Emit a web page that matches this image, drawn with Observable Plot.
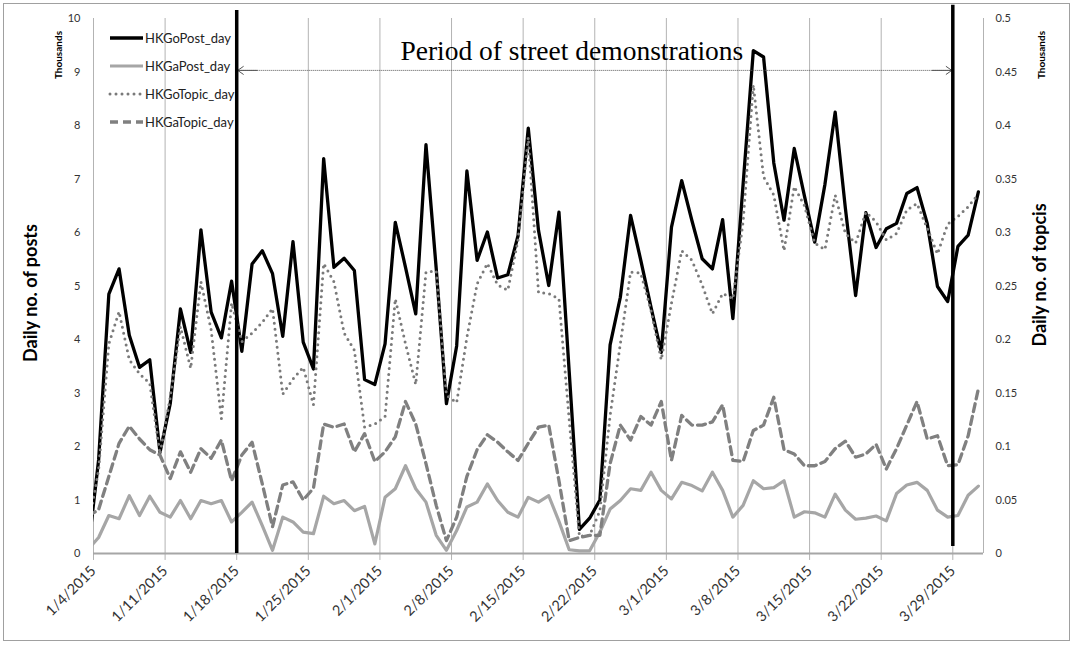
<!DOCTYPE html>
<html>
<head>
<meta charset="utf-8">
<script src="https://cdn.jsdelivr.net/npm/d3@7"></script>
<script src="https://cdn.jsdelivr.net/npm/@observablehq/plot@0.6"></script>
<style>
  html, body { margin: 0; padding: 0; background: #fff; }
  #chart { width: 1074px; height: 645px; }
</style>
</head>
<body>
<div id="chart"></div>
<script>
// ---------- DATA (thousands) : one value per day, 2015-01-03 .. 2015-03-31 ----------
const firstDay = "2015-01-03";
const lastDayExclusive = "2015-04-01";

const seriesNames = ["HKGoPost_day", "HKGaPost_day", "HKGoTopic_day", "HKGaTopic_day"];

// daily posts (left axis, thousands)
const goPost = [
  0.10,
  1.75, 4.85, 5.32, 4.08, 3.48, 3.62, 1.89,
  2.80, 4.57, 3.76, 6.05, 4.51, 4.03, 5.09,
  3.78, 5.41, 5.66, 5.23, 4.06, 5.83, 3.95,
  3.45, 7.38, 5.35, 5.52, 5.29, 3.25, 3.16,
  3.92, 6.19, 5.35, 4.48, 7.64, 5.33, 2.80,
  3.88, 7.15, 5.48, 6.01, 5.15, 5.21, 5.94,
  7.95, 6.04, 5.01, 6.38, 3.40, 0.45, 0.66,
  1.00, 3.90, 4.79, 6.32, 5.48, 4.60, 3.76,
  6.10, 6.97, 6.22, 5.51, 5.32, 6.24, 4.39,
  6.90, 9.40, 9.28, 7.30, 6.23, 7.57, 6.68,
  5.82, 6.90, 8.25, 6.45, 4.82, 6.37, 5.72,
  6.07, 6.17, 6.73, 6.84, 6.17, 4.99, 4.71,
  5.74, 5.95, 6.76
];
const gaPost = [
  0.08,
  0.30, 0.71, 0.65, 1.08, 0.71, 1.07, 0.77,
  0.68, 0.99, 0.65, 0.99, 0.93, 0.99, 0.59,
  0.77, 0.96, 0.52, 0.06, 0.68, 0.59, 0.40,
  0.37, 1.07, 0.93, 0.99, 0.80, 0.88, 0.18,
  1.05, 1.21, 1.64, 1.21, 0.96, 0.34, 0.06,
  0.43, 0.87, 0.96, 1.30, 0.99, 0.77, 0.68,
  1.05, 0.96, 1.08, 0.60, 0.07, 0.05, 0.05,
  0.40, 0.83, 0.99, 1.21, 1.18, 1.52, 1.18,
  1.02, 1.33, 1.27, 1.17, 1.52, 1.18, 0.68,
  0.90, 1.36, 1.21, 1.23, 1.36, 0.68, 0.78,
  0.76, 0.68, 1.11, 0.81, 0.64, 0.66, 0.70,
  0.61, 1.12, 1.28, 1.33, 1.18, 0.81, 0.68,
  0.71, 1.09, 1.26
];
// daily topics (right axis, thousands)
const goTopic = [
  0.025,
  0.078, 0.196, 0.226, 0.181, 0.168, 0.159, 0.093,
  0.146, 0.212, 0.173, 0.254, 0.209, 0.126, 0.234,
  0.198, 0.206, 0.216, 0.229, 0.149, 0.163, 0.174,
  0.139, 0.271, 0.254, 0.206, 0.190, 0.118, 0.121,
  0.128, 0.238, 0.196, 0.158, 0.263, 0.264, 0.148,
  0.141, 0.202, 0.252, 0.271, 0.251, 0.246, 0.293,
  0.389, 0.244, 0.243, 0.238, 0.125, 0.016, 0.017,
  0.040, 0.129, 0.196, 0.263, 0.262, 0.227, 0.181,
  0.234, 0.283, 0.274, 0.251, 0.224, 0.243, 0.238,
  0.310, 0.438, 0.352, 0.335, 0.283, 0.343, 0.325,
  0.290, 0.284, 0.335, 0.299, 0.290, 0.319, 0.310,
  0.293, 0.299, 0.321, 0.327, 0.304, 0.280, 0.308,
  0.315, 0.324, 0.336
];
const gaTopic = [
  0.035,
  0.041, 0.072, 0.103, 0.119, 0.107, 0.097, 0.092,
  0.070, 0.095, 0.076, 0.098, 0.089, 0.106, 0.068,
  0.092, 0.104, 0.065, 0.025, 0.064, 0.067, 0.050,
  0.061, 0.121, 0.118, 0.121, 0.095, 0.112, 0.086,
  0.095, 0.109, 0.142, 0.121, 0.084, 0.045, 0.012,
  0.034, 0.072, 0.097, 0.111, 0.104, 0.095, 0.087,
  0.103, 0.118, 0.120, 0.068, 0.012, 0.015, 0.017,
  0.017, 0.084, 0.120, 0.106, 0.128, 0.120, 0.142,
  0.087, 0.129, 0.120, 0.120, 0.123, 0.139, 0.087,
  0.086, 0.115, 0.120, 0.146, 0.097, 0.093, 0.082,
  0.082, 0.086, 0.098, 0.105, 0.090, 0.093, 0.102,
  0.079, 0.098, 0.120, 0.142, 0.107, 0.110, 0.082,
  0.083, 0.110, 0.154
];

const tickDates = ["2015-01-04","2015-01-11","2015-01-18","2015-01-25","2015-02-01","2015-02-08",
  "2015-02-15","2015-02-22","2015-03-01","2015-03-08","2015-03-15","2015-03-22","2015-03-29"];
const postTicks = [0,1,2,3,4,5,6,7,8,9,10];
const topicTicks = [0,0.05,0.1,0.15,0.2,0.25,0.3,0.35,0.4,0.45,0.5];
const axisStart = "2015-01-04", axisEnd = "2015-04-01";
const demoStart = "2015-01-18", demoEnd = "2015-03-29";
const annotationText = "Period of street demonstrations";
const annotationDate = "2015-02-03";
const postTitle = "Daily no. of posts";
const topicTitle = "Daily no. of topcis";
const unitLabel = "Thousands";

// ---------- BUILD ----------
const P = s => new Date(s + "T00:00:00Z");
const days = d3.utcDay.range(P(firstDay), P(lastDayExclusive));
const ratio = 20; // topics axis max 0.5 vs posts axis max 10
const rows = days.map((d, i) => ({
  date: d3.utcHour.offset(d, 12),
  goPost: goPost[i], gaPost: gaPost[i], goTopic: goTopic[i], gaTopic: gaTopic[i]
}));
const ticks = tickDates.map(P);

const styles = {
  HKGoPost_day:  {stroke: "#000000", strokeWidth: 3.3},
  HKGaPost_day:  {stroke: "#a6a6a6", strokeWidth: 3.2},
  HKGoTopic_day: {stroke: "#7a7a7a", strokeWidth: 3, strokeDasharray: "0,6", strokeLinecap: "round"},
  HKGaTopic_day: {stroke: "#808080", strokeWidth: 3.3, strokeDasharray: "8,5"}
};

const FONT = "Lato, 'Open Sans', sans-serif";
const arrowY = 9.03;

const svg = Plot.plot({
  width: 1074, height: 645,
  marginLeft: 93, marginRight: 91, marginTop: 18, marginBottom: 92,
  style: {fontFamily: FONT, fontSize: "11px", background: "#fff", color: "#333"},
  x: {type: "utc", domain: [P(axisStart), P(axisEnd)]},
  y: {domain: [0, 10]},
  marks: [
    // vertical grid + tick marks
    Plot.ruleX(ticks, {y1: -0.13, y2: 10, stroke: "#b3b3b3", strokeWidth: 1}),
    Plot.ruleX([P(axisEnd)], {y1: 0, y2: 10, stroke: "#b3b3b3", strokeWidth: 1}),
    Plot.ruleY([0], {stroke: "#a6a6a6", strokeWidth: 2}),
    // series
    Plot.line(rows, {x: "date", y: "goPost", ...styles.HKGoPost_day, strokeLinejoin: "round", clip: true}),
    Plot.line(rows, {x: "date", y: "gaPost", ...styles.HKGaPost_day, strokeLinejoin: "round", clip: true}),
    Plot.line(rows, {x: "date", y: d => d.goTopic * ratio, ...styles.HKGoTopic_day, clip: true}),
    Plot.line(rows, {x: "date", y: d => d.gaTopic * ratio, ...styles.HKGaTopic_day, strokeLinejoin: "round", clip: true}),
    // demonstration period: dotted double arrow
    Plot.link([{a: P(demoStart), b: P(demoEnd)}], {
      x1: "a", x2: "b", y1: () => arrowY, y2: () => arrowY,
      stroke: "#555", strokeWidth: 1, strokeDasharray: "1,1"
    }),
    Plot.arrow([{a: d3.utcDay.offset(P(demoStart), 2), b: P(demoStart)},
                {a: d3.utcDay.offset(P(demoEnd), -2), b: P(demoEnd)}], {
      x1: "a", x2: "b", y1: () => arrowY, y2: () => arrowY,
      stroke: "#555", strokeWidth: 1, headLength: 11, headAngle: 70, insetEnd: 1
    }),
    // demonstration period markers
    Plot.ruleX([P(demoStart)], {y1: 0, y2: 10.15, stroke: "#000", strokeWidth: 3.5}),
    Plot.ruleX([P(demoEnd)], {y1: 0.13, y2: 10.25, stroke: "#000", strokeWidth: 3.5}),
    Plot.text([{label: annotationText, date: P(annotationDate)}], {
      x: "date", y: () => 9.23, text: "label", textAnchor: "start", lineAnchor: "bottom",
      fontFamily: "'Liberation Serif', serif", fontSize: 27.5, fill: "#000"
    }),
    // axes
    Plot.axisX(ticks, {tickFormat: d3.utcFormat("%-m/%-d/%Y"), tickRotate: -45, tickSize: 0,
      tickPadding: 15, fontSize: 14.5, fill: "#333", label: null}),
    Plot.axisY(postTicks, {tickSize: 0, tickPadding: 13, fontSize: 11, fill: "#333", label: null,
      tickFormat: d => String(d)}),
    Plot.axisY(topicTicks.map(t => t * ratio), {anchor: "right", tickSize: 0, tickPadding: 12,
      fontSize: 11, fill: "#333", label: null,
      tickFormat: d => String(+(d / ratio).toFixed(2))})
  ]
});

document.getElementById("chart").appendChild(svg);

// ---------- decorations: border, titles, legend ----------
const s = d3.select(svg);
s.insert("rect", ":first-child")
  .attr("x", 3.5).attr("y", 3.5).attr("width", 1066).attr("height", 637)
  .attr("fill", "#fff").attr("stroke", "#a0a0a0").attr("stroke-width", 1);

function vtext(x, y, txt, size, weight) {
  s.append("text").attr("transform", `translate(${x},${y}) rotate(-90)`)
    .attr("text-anchor", "middle").attr("font-family", FONT)
    .attr("font-size", size).attr("font-weight", weight).attr("fill", "#000").text(txt);
}
vtext(62, 55, unitLabel, 10, 700);
vtext(1045, 55, unitLabel, 10, 700);
vtext(37, 293, postTitle, 18, 700);
vtext(1046, 275, topicTitle, 18, 700);

const leg = s.append("g");
seriesNames.forEach((name, i) => {
  const y = 38 + 28 * i;
  const st = styles[name];
  leg.append("line").attr("x1", 110).attr("x2", 143).attr("y1", y).attr("y2", y)
    .attr("stroke", st.stroke).attr("stroke-width", st.strokeWidth)
    .attr("stroke-dasharray", st.strokeDasharray || null)
    .attr("stroke-linecap", st.strokeLinecap || "butt");
  leg.append("text").attr("x", 145).attr("y", y).attr("dy", "0.35em")
    .attr("text-anchor", "start")
    .attr("font-family", FONT).attr("font-size", 13).attr("fill", "#222").text(name);
});
</script>
</body>
</html>
